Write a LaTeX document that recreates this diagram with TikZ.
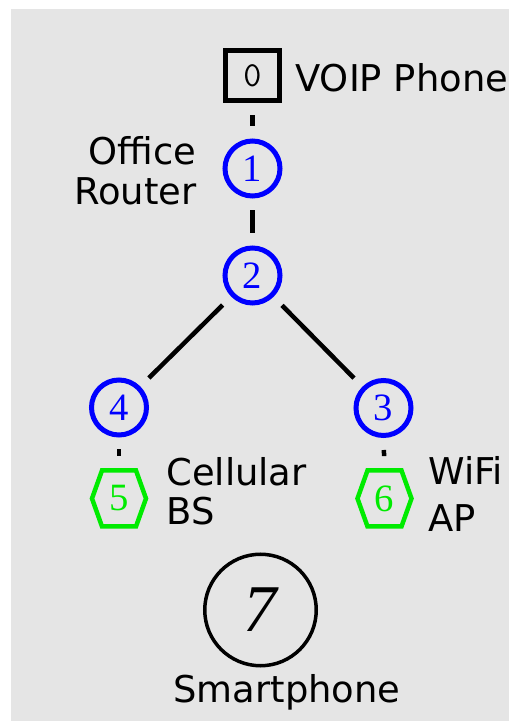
\documentclass[tikz,border=0pt]{standalone}
\usepackage{fontspec}
\usepackage{tikz}
\usepackage{xcolor}
\usetikzlibrary{positioning,calc}

\newfontfamily\labelfont{DejaVu Sans}
\newfontfamily\idfont{Liberation Serif}
\definecolor{bggray}{RGB}{229,229,229}
\definecolor{hopblue}{RGB}{0,0,255}
\definecolor{apgreen}{RGB}{0,235,0}

\begin{document}
\begin{tikzpicture}[
      x=1cm, y=1cm,
      phone/.style={draw, line width=0.1cm, minimum width=1.09cm, minimum height=1.01cm, inner sep=0pt, font=\ttfamily\fontsize{20}{20}\selectfont},
      hop/.style={circle, draw=hopblue, text=hopblue, line width=0.1cm, minimum size=1.1cm, inner sep=0pt, font=\idfont\fontsize{22}{22}\selectfont},
      ap/.style={circle, minimum size=1.2cm, inner sep=0pt, text=apgreen, font=\idfont\fontsize{22}{22}\selectfont},
      hexline/.style={draw=apgreen, line width=0.09cm, line join=miter},
      host/.style={circle, draw, line width=0.07cm, minimum size=2.23cm, inner sep=0pt, font=\idfont\fontsize{38}{38}\selectfont\itshape},
      tag/.style={font=\labelfont\fontsize{21}{22}\selectfont, inner sep=0pt},
      link/.style={line width=0.09cm, shorten <=0.24cm, shorten >=0.24cm}
  ]
    \fill[bggray] (0.22,0) rectangle (10.18,14.24);
    \useasboundingbox (0,0) rectangle (10.18,14.42);

    % the path from the desk phone down to the two access points
    \node[phone] (voip) at (5.05,12.91) {0};
    \node[hop] (office) at (5.05,11.05) {1};
    \node[hop] (core) at (5.05,8.91) {2};
    \node[hop] (wifihop) at (7.67,6.26) {3};
    \node[hop] (cellhop) at (2.38,6.27) {4};
    \node[ap] (bs) at (2.38,4.45) {5};
    \node[ap] (wap) at (7.69,4.45) {6};
    \node[host] (smart) at (5.21,2.22) {7};

    \foreach \n in {bs,wap}
      \draw[hexline] ($(\n)+(-0.54,0)$) -- ($(\n)+(-0.34,0.56)$) -- ($(\n)+(0.34,0.56)$)
        -- ($(\n)+(0.54,0)$) -- ($(\n)+(0.34,-0.56)$) -- ($(\n)+(-0.34,-0.56)$) -- cycle;

    \draw[link] (voip) -- (office);
    \draw[link] (office) -- (core);
    \draw[link] (core) -- (cellhop);
    \draw[link] (core) -- (wifihop);
    \draw[link] (cellhop) -- (bs);
    \draw[link] (wifihop) -- (wap);

    \node[tag, anchor=base west] (voiplbl) at (5.90,12.58) {VOIP Phone};
    \node[tag, align=right, anchor=east] (officelbl) at (3.94,11.01) {Office\\[1pt]Router};
    \node[tag, align=left, anchor=west] (celllbl) at (3.32,4.60) {Cellular\\BS};
    \node[tag, align=left, anchor=west] (wifilbl) at (8.56,4.54) {WiFi\\[5pt]AP};
    \node[tag, anchor=base] (smartlbl) at (5.74,0.36) {Smartphone};
  \end{tikzpicture}
\end{document}
